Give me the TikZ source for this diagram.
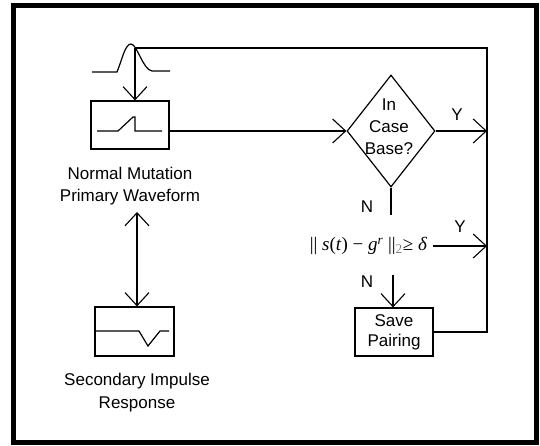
\documentclass[tikz,border=0pt]{standalone}
\usepackage{fontspec}
\setmainfont{Liberation Sans}
\newfontfamily\formfont{Liberation Serif}
\usetikzlibrary{arrows.meta,shapes.geometric}
\begin{document}
\begin{tikzpicture}[x=1pt,y=-1pt,
  conn/.style={line width=1.2pt},
  arr/.style={conn,-{Straight Barb[length=13pt,width=24pt,line width=1.1pt]}},
  arrboth/.style={conn,{Straight Barb[length=13pt,width=24pt,line width=1.1pt]}-{Straight Barb[length=13pt,width=24pt,line width=1.1pt]}},
  boxst/.style={draw,line width=1.2pt,minimum width=78pt,minimum height=48pt,inner sep=0pt},
  lbl/.style={font=\fontsize{17}{22}\selectfont,align=center,inner sep=0pt}]
\useasboundingbox (0,0) rectangle (540,445);
\draw[line width=5pt] (13.5,5.5) rectangle (536,442);

% pulse waveform (input)
\draw[conn] (92,72) -- (117,72) .. controls (122,60) and (125,44) .. (131,44)
  .. controls (137,44) and (143,70) .. (152,71) -- (170,71);
\coordinate (peak) at (135,48);
\coordinate (tr) at (487,48);

% primary waveform box
\node[boxst] (mutbox) at (130,125) {};
\draw[conn] (97,131) -- (118,131) -- (133,117) -- (135,117) -- (135,131) -- (162,131);
\node[lbl] (mutlbl) at (130,186) {Normal Mutation\\Primary Waveform};

% secondary impulse box
\node[boxst,minimum width=79pt,minimum height=49pt] (secbox) at (134.5,331.5) {};
\draw[conn] (95,331) -- (139,331) -- (148,346) -- (160,331) -- (169,331);
\node[lbl,font=\fontsize{17}{23}\selectfont] (seclbl) at (137,393) {Secondary Impulse\\Response};
\coordinate (d1) at (137,212);

% decision diamond
\node[diamond,draw,line width=1.2pt,minimum width=88pt,minimum height=112pt,inner sep=0pt] (dia) at (391,131) {};
\node[lbl] (diatxt) at (389,127) {In\\Case\\Base?};
\node[lbl] (y1) at (457,115) {Y};
\node[lbl] (n1lbl) at (367,207) {N};
\coordinate (n1) at (391,215);

% norm test
\node[inner xsep=6pt,inner ysep=2pt] (form) at (368.5,246)
  {\formfont\fontsize{19}{21}\selectfont ||~\textit{s}(\textit{t})~−~\textit{g}\textsuperscript{\textit{r}}~||\textsubscript{\textcolor{gray}{2}}≥~\textit{δ}};
\node[lbl] (y2) at (460,227) {Y};
\node[lbl] (n2lbl) at (367,282) {N};
\coordinate (n2) at (393,275);

% save pairing
\node[boxst,align=center,font=\fontsize{17}{20}\selectfont] (save) at (394,332) {Save\\Pairing};

% connectors
\draw[arr] (peak) -- (peak |- mutbox.north);
\draw[arr] (mutbox.east |- dia.west) -- (dia.west);
\draw[arr] (dia.east) -- (dia.east -| tr);
\draw[conn] (dia.south) -- (n1);
\draw[arr] (form.east) -- (form.east -| tr);
\draw[arr] (n2) -- (n2 |- save.north);
\draw[conn] (save.east) -| (tr) -- (peak);
\draw[arrboth] (d1) -- (d1 |- secbox.north);
\end{tikzpicture}
\end{document}
